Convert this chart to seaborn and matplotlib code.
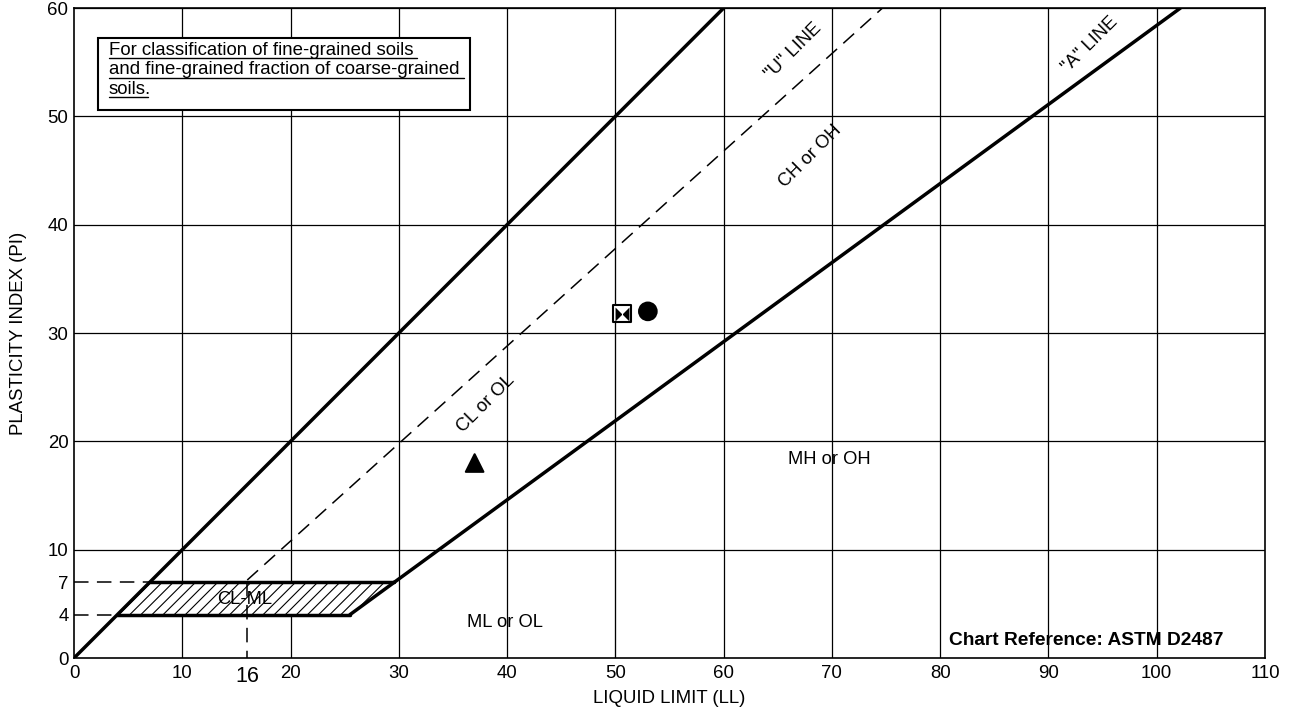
import matplotlib
matplotlib.use("Agg")
import matplotlib.pyplot as plt
import seaborn as sns
import pandas as pd
from matplotlib.patches import Polygon

# boundary lines of the plasticity chart
limit_ll = [0, 60]
limit_pi = [0, 60]
u_ll = [16, 74.67]
u_pi = [7.2, 60]
a_ll = [29.59, 102.19]
a_pi = [7, 60]
ll50_ll = [50, 50]
ll50_pi = [0, 50]
clml_ll = [4, 7, 29.59, 25.48]
clml_pi = [4, 7, 7, 4]

# test results
sample_ll = [50.6, 53.0, 37.0]
sample_pi = [31.8, 32.0, 18.0]
sample_marker = ["bowtie", "circle", "triangle"]

x_ticks = [0, 10, 20, 30, 40, 50, 60, 70, 80, 90, 100, 110]
y_ticks = [0, 4, 7, 10, 20, 30, 40, 50, 60]

note_lines = ["For classification of fine-grained soils",
              "and fine-grained fraction of coarse-grained",
              "soils."]

sns.set_style("white", {"text.color": "black", "axes.labelcolor": "black",
                        "xtick.color": "black", "ytick.color": "black"})
plt.rcParams["font.family"] = ["Liberation Sans", "DejaVu Sans"]
plt.rcParams["hatch.linewidth"] = 0.8

fig = plt.figure(figsize=(12.94, 7.11), dpi=100)
ax = fig.add_axes([0.0572, 0.0745, 0.9204, 0.9142])

dash = (0, (9.5, 5.5))

# grid
for gx in range(10, 110, 10):
    ax.axvline(gx, color="black", lw=0.9, zorder=1)
for gy in range(10, 70, 10):
    ax.axhline(gy, color="black", lw=0.9, zorder=1)

# CL-ML hatched zone
zone = Polygon(list(zip(clml_ll, clml_pi)), closed=True, facecolor="white",
               edgecolor="black", hatch="///", lw=0, zorder=2)
ax.add_patch(zone)
sns.lineplot(x=[4, 25.48], y=[4, 4], color="black", lw=2.5, ax=ax, zorder=3)
sns.lineplot(x=[7, 29.59], y=[7, 7], color="black", lw=2.5, ax=ax, zorder=3)
sns.lineplot(x=[25.48, 29.59], y=[4, 7], color="black", lw=2.5, ax=ax, zorder=3)

sns.lineplot(x=limit_ll, y=limit_pi, color="black", lw=2.5, ax=ax, zorder=3)
sns.lineplot(x=a_ll, y=a_pi, color="black", lw=2.5, ax=ax, zorder=3)
sns.lineplot(x=ll50_ll, y=ll50_pi, color="black", lw=2.5, ax=ax, zorder=3)
sns.lineplot(x=u_ll, y=u_pi, color="black", lw=1.1, ax=ax, zorder=3)
ax.lines[-1].set_linestyle(dash)

# dashed helpers to 4, 7 and 16
ax.plot([0, 7], [7, 7], color="black", lw=1.1, ls=dash, zorder=3)
ax.plot([0, 4], [4, 4], color="black", lw=1.1, ls=dash, zorder=3)
ax.plot([16, 16], [7, 0], color="black", lw=1.1, ls=dash, zorder=3)

# samples
df = pd.DataFrame({"LL": sample_ll, "PI": sample_pi, "m": sample_marker})
bowtie = [(-1, -1), (-1, 1), (1, -1), (1, 1), (-1, -1)]
markers = {"bowtie": "s", "circle": "o", "triangle": "^"}
sns.scatterplot(data=df, x="LL", y="PI", style="m", markers=markers,
                s=160, color="black", edgecolor="black", linewidth=1.5,
                legend=False, ax=ax, zorder=5)
ax.collections[-1].set_facecolor(["white", "black", "black"])
sns.scatterplot(x=sample_ll[:1], y=sample_pi[:1], marker=bowtie, s=100,
                color="black", linewidth=0, ax=ax, zorder=6)

# region labels
fs = 13.2
ax.text(15.8, 5.4, "CL-ML", fontsize=fs, ha="center", va="center", zorder=4)
ax.text(38, 23.5, "CL or OL", fontsize=fs, ha="center", va="center", rotation=45)
ax.text(68, 46.3, "CH or OH", fontsize=fs, ha="center", va="center", rotation=45)
ax.text(69.8, 18.3, "MH or OH", fontsize=fs, ha="center", va="center")
ax.text(39.8, 3.3, "ML or OL", fontsize=fs, ha="center", va="center")
ax.text(66.4, 56.0, '"U" LINE', fontsize=fs, ha="center", va="center", rotation=45)
ax.text(93.8, 56.6, '"A" LINE', fontsize=fs, ha="center", va="center", rotation=45)
ax.text(93.5, 1.6, "Chart Reference: ASTM D2487", fontsize=13.8,
        fontweight="bold", ha="center", va="center")

# note box with underlined text
note_box = Polygon([(2.2, 57.2), (36.6, 57.2), (36.6, 50.6), (2.2, 50.6)],
                   closed=True, facecolor="white", edgecolor="black", lw=1.5,
                   zorder=4)
ax.add_patch(note_box)
fig.canvas.draw()
renderer = fig.canvas.get_renderer()
for i, line in enumerate(note_lines):
    t = ax.text(3.2, 56.1 - i * 1.8, line, fontsize=13.4, ha="left",
                va="center", zorder=5)
    bb = t.get_window_extent(renderer).transformed(ax.transData.inverted())
    ax.plot([bb.x0, bb.x1 - 0.3], [bb.y0 + 0.12, bb.y0 + 0.12], color="black",
            lw=1.0, zorder=5)

ax.set_xlim(0, 110)
ax.set_ylim(0, 60)
ax.set_xticks(x_ticks)
ax.set_yticks(y_ticks)
ax.tick_params(axis="both", labelsize=13.4, length=0, pad=5)
ax.tick_params(axis="y", pad=4)
ax.text(16, -0.75, "16", fontsize=15.5, ha="center", va="top")
ax.set_xlabel("LIQUID LIMIT (LL)", fontsize=13.4, labelpad=6)
ax.set_ylabel("PLASTICITY INDEX (PI)", fontsize=13.4, labelpad=15)
for sp in ax.spines.values():
    sp.set_color("black")
    sp.set_linewidth(1.2)

fig.savefig("out.png", dpi=100)
